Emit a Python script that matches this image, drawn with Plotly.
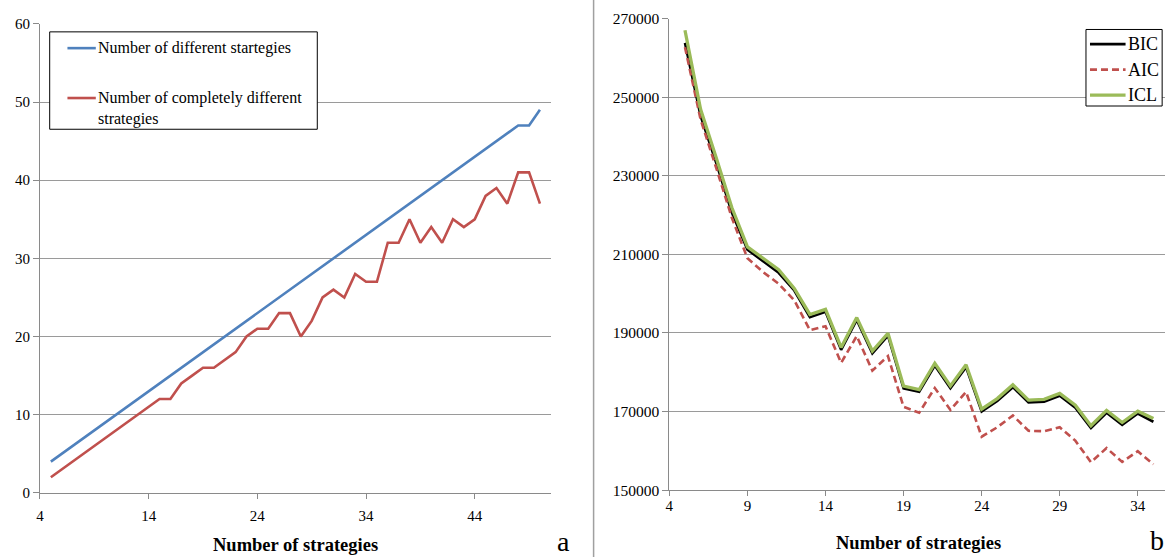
import plotly.graph_objects as go

# Page geometry (measured from earlier renders): figure pixels f map to the
# final 1165x557 picture as  x = AX + BX*f  and  y = SY*(C + f).
OUT_W, OUT_H = 1165, 557
FW, FH = 1173, 565
AX, BX = 4.4, 0.9944
C = 8
SY = 557 / 573

# ---- Chart a data ----
strategies_a = [5, 6, 7, 8, 9, 10, 11, 12, 13, 14, 15, 16, 17, 18, 19, 20, 21, 22, 23, 24,
                25, 26, 27, 28, 29, 30, 31, 32, 33, 34, 35, 36, 37, 38, 39, 40, 41, 42, 43, 44,
                45, 46, 47, 48, 49, 50]
different = [4, 5, 6, 7, 8, 9, 10, 11, 12, 13, 14, 15, 16, 17, 18, 19, 20, 21, 22, 23,
             24, 25, 26, 27, 28, 29, 30, 31, 32, 33, 34, 35, 36, 37, 38, 39, 40, 41, 42, 43,
             44, 45, 46, 47, 47, 49]
completely_different = [2, 3, 4, 5, 6, 7, 8, 9, 10, 11, 12, 12, 14, 15, 16, 16, 17, 18, 20, 21,
                        21, 23, 23, 20, 22, 25, 26, 25, 28, 27, 27, 32, 32, 35, 32, 34, 32, 35, 34, 35,
                        38, 39, 37, 41, 41, 37]
xticks_a = [4, 14, 24, 34, 44]
yticks_a = [0, 10, 20, 30, 40, 50, 60]

# ---- Chart b data ----
strategies_b = [5, 6, 7, 8, 9, 10, 11, 12, 13, 14, 15, 16, 17, 18, 19, 20, 21, 22, 23, 24,
                25, 26, 27, 28, 29, 30, 31, 32, 33, 34, 35]
bic = [263800, 245200, 233300, 220600, 211200, 208200, 205300, 200800, 194000, 195400,
       185700, 193300, 184800, 189300, 175900, 175000, 181700, 175900, 181300, 170000,
       172700, 176200, 172300, 172500, 174000, 171000, 165800, 169700, 166600, 169500, 167400]
aic = [262700, 244300, 232000, 219300, 209000, 205500, 202500, 198300, 190700, 191700,
       182400, 189200, 180400, 184100, 171200, 169700, 176000, 170400, 175000, 163600,
       166000, 169000, 165100, 165000, 166000, 162600, 157100, 160700, 157200, 159900, 156600]
icl = [267000, 246900, 234600, 221900, 211900, 208900, 206100, 201300, 194700, 196000,
       186300, 193900, 185400, 189900, 176500, 175600, 182300, 176500, 181900, 170600,
       173300, 176800, 172900, 173100, 174600, 171600, 166400, 170300, 167200, 170100, 168200]
xticks_b = [4, 9, 14, 19, 24, 29, 34]
yticks_b = [150000, 170000, 190000, 210000, 230000, 250000, 270000]
legend_b = ["BIC", "AIC", "ICL"]

FONT = "Liberation Serif"
GRID = "#9a9a9a"
AXIS = "#8a8a8a"
BLUE = "#4F81BD"
RED = "#C0504D"
GREEN = "#9BBB59"
AIC_DASH = "7px,4px"


def fx(o):
    """final picture x -> paper x"""
    return ((o - AX) / BX) / FW


def fy(o):
    """final picture y -> paper y"""
    return 1 - (o / SY - C) / FH


fig = go.Figure()

# chart a
fig.add_trace(go.Scatter(x=strategies_a, y=different, mode="lines",
                         line=dict(color=BLUE, width=2.6), xaxis="x", yaxis="y",
                         name="Number of different startegies", showlegend=False))
fig.add_trace(go.Scatter(x=strategies_a, y=completely_different, mode="lines",
                         line=dict(color=RED, width=2.6), xaxis="x", yaxis="y",
                         name="Number of completely different strategies", showlegend=False))

# chart b
fig.add_trace(go.Scatter(x=strategies_b, y=bic, mode="lines", name=legend_b[0],
                         line=dict(color="black", width=2.6), xaxis="x2", yaxis="y2",
                         showlegend=False))
fig.add_trace(go.Scatter(x=strategies_b, y=aic, mode="lines", name=legend_b[1],
                         line=dict(color=RED, width=2.6, dash=AIC_DASH), xaxis="x2", yaxis="y2",
                         showlegend=False))
fig.add_trace(go.Scatter(x=strategies_b, y=icl, mode="lines", name=legend_b[2],
                         line=dict(color=GREEN, width=3.3), xaxis="x2", yaxis="y2",
                         showlegend=False))

axis_common = dict(showline=True, linecolor=AXIS, linewidth=1, ticks="outside",
                   tickcolor=AXIS, zeroline=False, color="black")

x2_left = 668.3
x2_unit = 15.58
x2_end = 4 + (AX + BX * FW - x2_left) / x2_unit

fig.update_layout(
    width=FW, height=FH, margin=dict(l=0, r=0, t=0, b=0),
    plot_bgcolor="white", paper_bgcolor="white",
    font=dict(family=FONT, color="black"),
    showlegend=False,
    xaxis=dict(domain=[fx(40.3), fx(550)], range=[4, 51], tickvals=xticks_a,
               showgrid=False, ticklen=5, tickfont=dict(size=15),
               ticklabelstandoff=4, anchor="y", **axis_common),
    yaxis=dict(domain=[fy(492.7), fy(22.7)], range=[0, 60], tickvals=yticks_a,
               showgrid=True, gridcolor=GRID, gridwidth=1, ticklen=6,
               tickfont=dict(size=15), anchor="x", **axis_common),
    xaxis2=dict(domain=[fx(x2_left), 1.0], range=[4, x2_end], tickvals=xticks_b,
                showgrid=False, ticklen=5, tickfont=dict(size=15), anchor="y2",
                ticklabelstandoff=-3, **axis_common),
    yaxis2=dict(domain=[fy(490), fy(17.3)], range=[150000, 270000], tickvals=yticks_b,
                tickformat="d", showgrid=True, gridcolor=GRID, gridwidth=1, ticklen=6,
                tickfont=dict(size=15.5), anchor="x2", **axis_common),
)

# separator between the two panels
fig.add_shape(type="line", xref="paper", yref="paper", x0=fx(592.7), x1=fx(592.7),
              y0=0, y1=1.05, line=dict(color="#a0a0a0", width=1.5))

# chart a legend (box, samples, text)
fig.add_shape(type="rect", xref="paper", yref="paper", x0=fx(50), x1=fx(317),
              y0=fy(128.3), y1=fy(30.7), line=dict(color="black", width=1),
              fillcolor="white", layer="above")
fig.add_shape(type="line", xref="paper", yref="paper", x0=fx(67.7), x1=fx(96),
              y0=fy(47), y1=fy(47), line=dict(color=BLUE, width=2.6))
fig.add_shape(type="line", xref="paper", yref="paper", x0=fx(67.7), x1=fx(96),
              y0=fy(97), y1=fy(97), line=dict(color=RED, width=2.6))
fig.add_annotation(xref="paper", yref="paper", x=fx(96), y=fy(47), xanchor="left",
                   yanchor="middle", showarrow=False, text="Number of different startegies",
                   font=dict(family=FONT, size=16, color="black"))
fig.add_annotation(xref="paper", yref="paper", x=fx(96), y=fy(86), xanchor="left",
                   yanchor="top", align="left", showarrow=False,
                   text="Number of completely different<br>strategies",
                   font=dict(family=FONT, size=16, color="black"))

# chart b legend (box, samples, text)
fig.add_shape(type="rect", xref="paper", yref="paper", x0=fx(1084), x1=fx(1160),
              y0=fy(105), y1=fy(28.3), line=dict(color="black", width=1),
              fillcolor="white", layer="above")
legend_b_y = [43, 68.5, 94]
legend_b_style = [dict(color="black", width=2.8),
                  dict(color=RED, width=2.8, dash=AIC_DASH),
                  dict(color=GREEN, width=3.3)]
for name, yy, st in zip(legend_b, legend_b_y, legend_b_style):
    fig.add_shape(type="line", xref="paper", yref="paper", x0=fx(1088), x1=fx(1123.5),
                  y0=fy(yy), y1=fy(yy), line=st)
    fig.add_annotation(xref="paper", yref="paper", x=fx(1124), y=fy(yy), xanchor="left",
                       yanchor="middle", showarrow=False, text=name,
                       font=dict(family=FONT, size=18, color="black"))

# axis titles
fig.add_annotation(xref="paper", yref="paper", x=fx(295), y=fy(545), xanchor="center",
                   yanchor="middle", showarrow=False, text="<b>Number of strategies</b>",
                   font=dict(family=FONT, size=18.5, color="black"))
fig.add_annotation(xref="paper", yref="paper", x=fx(917), y=fy(543), xanchor="center",
                   yanchor="middle", showarrow=False, text="<b>Number of strategies</b>",
                   font=dict(family=FONT, size=18.5, color="black"))
# panel letters
fig.add_annotation(xref="paper", yref="paper", x=fx(563), y=fy(541), xanchor="center",
                   yanchor="middle", showarrow=False, text="a",
                   font=dict(family=FONT, size=28, color="black"))
fig.add_annotation(xref="paper", yref="paper", x=fx(1164), y=fy(540), xanchor="right",
                   yanchor="middle", showarrow=False, text="b",
                   font=dict(family=FONT, size=28, color="black"))

fig.write_html("out.html", config={"displayModeBar": False},
               post_script="document.body.style.margin='0px';")
